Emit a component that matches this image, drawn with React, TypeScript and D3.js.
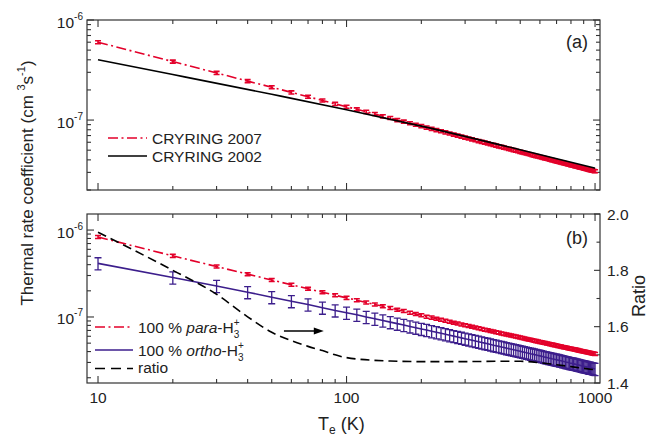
import React, { useEffect, useRef } from 'react';
import * as d3 from 'd3';

// electron temperatures (K), one measured point every 10 K
const temps = [
  10, 20, 30, 40, 50, 60, 70, 80, 90, 100,
  110, 120, 130, 140, 150, 160, 170, 180, 190, 200,
  210, 220, 230, 240, 250, 260, 270, 280, 290, 300,
  310, 320, 330, 340, 350, 360, 370, 380, 390, 400,
  410, 420, 430, 440, 450, 460, 470, 480, 490, 500,
  510, 520, 530, 540, 550, 560, 570, 580, 590, 600,
  610, 620, 630, 640, 650, 660, 670, 680, 690, 700,
  710, 720, 730, 740, 750, 760, 770, 780, 790, 800,
  810, 820, 830, 840, 850, 860, 870, 880, 890, 900,
  910, 920, 930, 940, 950, 960, 970, 980, 990, 1000,
];

// panel (a): CRYRING 2007 rate coefficient (cm^3 s^-1)
const cryring2007 = [
  6.00e-7, 3.84e-7, 2.96e-7, 2.45e-7, 2.13e-7, 1.89e-7, 1.71e-7, 1.57e-7, 1.45e-7, 1.36e-7,
  1.28e-7, 1.21e-7, 1.15e-7, 1.09e-7, 1.05e-7, 1.00e-7, 9.65e-8, 9.30e-8, 8.98e-8, 8.69e-8,
  8.42e-8, 8.18e-8, 7.94e-8, 7.73e-8, 7.53e-8, 7.34e-8, 7.16e-8, 7.00e-8, 6.84e-8, 6.69e-8,
  6.55e-8, 6.42e-8, 6.29e-8, 6.17e-8, 6.06e-8, 5.95e-8, 5.85e-8, 5.74e-8, 5.65e-8, 5.56e-8,
  5.47e-8, 5.39e-8, 5.30e-8, 5.23e-8, 5.15e-8, 5.08e-8, 5.01e-8, 4.94e-8, 4.88e-8, 4.81e-8,
  4.75e-8, 4.69e-8, 4.64e-8, 4.58e-8, 4.53e-8, 4.47e-8, 4.42e-8, 4.37e-8, 4.33e-8, 4.28e-8,
  4.23e-8, 4.19e-8, 4.15e-8, 4.11e-8, 4.06e-8, 4.02e-8, 3.98e-8, 3.95e-8, 3.91e-8, 3.87e-8,
  3.84e-8, 3.80e-8, 3.77e-8, 3.74e-8, 3.71e-8, 3.67e-8, 3.64e-8, 3.61e-8, 3.58e-8, 3.55e-8,
  3.53e-8, 3.50e-8, 3.47e-8, 3.44e-8, 3.42e-8, 3.39e-8, 3.37e-8, 3.34e-8, 3.32e-8, 3.29e-8,
  3.27e-8, 3.25e-8, 3.23e-8, 3.20e-8, 3.18e-8, 3.16e-8, 3.14e-8, 3.12e-8, 3.10e-8, 3.08e-8,
];
const cryring2007RelErr = 0.035;

// panel (a): CRYRING 2002 curve
const cryring2002Temps = [10, 20, 50, 100, 200, 500, 1000];
const cryring2002 = [4.0e-7, 2.85e-7, 1.81e-7, 1.27e-7, 8.7e-8, 5.05e-8, 3.3e-8];

// panel (b): 100 % para-H3+
const paraRate = [
  8.32e-7, 5.05e-7, 3.80e-7, 3.11e-7, 2.66e-7, 2.35e-7, 2.11e-7, 1.93e-7, 1.78e-7, 1.66e-7,
  1.56e-7, 1.47e-7, 1.39e-7, 1.33e-7, 1.27e-7, 1.21e-7, 1.17e-7, 1.12e-7, 1.08e-7, 1.05e-7,
  1.01e-7, 9.84e-8, 9.56e-8, 9.30e-8, 9.05e-8, 8.82e-8, 8.61e-8, 8.41e-8, 8.22e-8, 8.04e-8,
  7.88e-8, 7.72e-8, 7.56e-8, 7.42e-8, 7.28e-8, 7.15e-8, 7.03e-8, 6.91e-8, 6.80e-8, 6.69e-8,
  6.58e-8, 6.48e-8, 6.38e-8, 6.29e-8, 6.20e-8, 6.12e-8, 6.03e-8, 5.95e-8, 5.88e-8, 5.80e-8,
  5.73e-8, 5.66e-8, 5.59e-8, 5.52e-8, 5.46e-8, 5.40e-8, 5.34e-8, 5.28e-8, 5.22e-8, 5.17e-8,
  5.12e-8, 5.06e-8, 5.01e-8, 4.96e-8, 4.92e-8, 4.87e-8, 4.82e-8, 4.78e-8, 4.74e-8, 4.69e-8,
  4.65e-8, 4.61e-8, 4.57e-8, 4.53e-8, 4.49e-8, 4.46e-8, 4.42e-8, 4.38e-8, 4.35e-8, 4.32e-8,
  4.28e-8, 4.25e-8, 4.22e-8, 4.19e-8, 4.16e-8, 4.13e-8, 4.10e-8, 4.07e-8, 4.04e-8, 4.01e-8,
  3.98e-8, 3.96e-8, 3.93e-8, 3.91e-8, 3.88e-8, 3.85e-8, 3.83e-8, 3.80e-8, 3.78e-8, 3.76e-8,
];
const paraRelErr = 0.04;

// panel (b): 100 % ortho-H3+
const orthoRate = [
  4.14e-7, 2.85e-7, 2.27e-7, 1.93e-7, 1.69e-7, 1.52e-7, 1.39e-7, 1.28e-7, 1.19e-7, 1.12e-7,
  1.06e-7, 1.00e-7, 9.54e-8, 9.11e-8, 8.72e-8, 8.38e-8, 8.07e-8, 7.79e-8, 7.53e-8, 7.29e-8,
  7.07e-8, 6.86e-8, 6.67e-8, 6.49e-8, 6.32e-8, 6.17e-8, 6.02e-8, 5.88e-8, 5.75e-8, 5.63e-8,
  5.51e-8, 5.40e-8, 5.29e-8, 5.19e-8, 5.09e-8, 5.00e-8, 4.91e-8, 4.83e-8, 4.74e-8, 4.67e-8,
  4.59e-8, 4.52e-8, 4.45e-8, 4.38e-8, 4.32e-8, 4.26e-8, 4.20e-8, 4.14e-8, 4.08e-8, 4.03e-8,
  3.97e-8, 3.93e-8, 3.88e-8, 3.83e-8, 3.78e-8, 3.74e-8, 3.69e-8, 3.65e-8, 3.61e-8, 3.57e-8,
  3.53e-8, 3.49e-8, 3.45e-8, 3.42e-8, 3.38e-8, 3.35e-8, 3.31e-8, 3.28e-8, 3.25e-8, 3.22e-8,
  3.19e-8, 3.16e-8, 3.13e-8, 3.10e-8, 3.07e-8, 3.04e-8, 3.02e-8, 2.99e-8, 2.96e-8, 2.94e-8,
  2.91e-8, 2.89e-8, 2.87e-8, 2.84e-8, 2.82e-8, 2.80e-8, 2.78e-8, 2.75e-8, 2.73e-8, 2.71e-8,
  2.69e-8, 2.67e-8, 2.65e-8, 2.63e-8, 2.61e-8, 2.60e-8, 2.58e-8, 2.56e-8, 2.54e-8, 2.52e-8,
];
const orthoRelErr = 0.16;

// panel (b): para / ortho ratio (right axis)
const ratioTemps = [10, 20, 30, 40, 50, 60, 70, 80, 90, 100, 150, 200, 300, 400, 500, 600, 700, 800, 900, 1000];
const ratioValues = [1.935, 1.80, 1.715, 1.635, 1.58, 1.55, 1.53, 1.515, 1.50, 1.49, 1.478, 1.476, 1.476, 1.477, 1.477, 1.472, 1.465, 1.458, 1.452, 1.447];

const xTickLabels = [10, 100, 1000];
const ratioTickLabels = [1.4, 1.6, 1.8, 2.0];

const RED = '#e3002a';
const PURPLE = '#3c1e8c';
const FONT = '"Liberation Sans", Arial, Helvetica, sans-serif';

export default function App() {
  const svgRef = useRef<SVGSVGElement>(null);

  useEffect(() => {
    if (!svgRef.current) return;
    const svg = d3.select(svgRef.current);
    svg.selectAll('*').remove();

    const left = 87, right = 600;
    const x = d3.scaleLog().domain([9.03, 1047]).range([left, right]);

    const yA = d3.scaleLog().domain([2e-8, 1e-6]).range([190, 20]);
    const yB = d3.scaleLog().domain([1.74e-8, 1.53e-6]).range([383, 214]);
    const yR = d3.scaleLinear().domain([1.4, 2.0]).range([383, 214]);

    const isDecade = (v: number) => Math.abs(Math.log10(v) - Math.round(Math.log10(v))) < 1e-6;

    const frame = (y: any, rightLog: boolean) => {
      const [bottom, top] = y.range();
      const g = svg.append('g');
      g.append('rect')
        .attr('x', left).attr('y', top)
        .attr('width', right - left).attr('height', bottom - top)
        .attr('fill', 'none').attr('stroke', '#333').attr('stroke-width', 1.2);

      // x ticks, inward on bottom and top
      x.ticks().forEach((t: number) => {
        const len = isDecade(t) ? 7 : 4;
        const px = x(t);
        g.append('line').attr('x1', px).attr('x2', px).attr('y1', bottom).attr('y2', bottom - len)
          .attr('stroke', '#333').attr('stroke-width', 1.1);
        g.append('line').attr('x1', px).attr('x2', px).attr('y1', top).attr('y2', top + len)
          .attr('stroke', '#333').attr('stroke-width', 1.1);
      });

      // log y ticks
      y.ticks().forEach((t: number) => {
        const len = isDecade(t) ? 7 : 4;
        const py = y(t);
        g.append('line').attr('x1', left).attr('x2', left + len).attr('y1', py).attr('y2', py)
          .attr('stroke', '#333').attr('stroke-width', 1.1);
        if (rightLog) {
          g.append('line').attr('x1', right).attr('x2', right - len).attr('y1', py).attr('y2', py)
            .attr('stroke', '#333').attr('stroke-width', 1.1);
        }
        if (isDecade(t)) {
          const txt = g.append('text')
            .attr('x', 83).attr('y', py + 7.5)
            .attr('text-anchor', 'end')
            .attr('font-size', 15.5).attr('fill', '#222');
          txt.append('tspan').text('10');
          txt.append('tspan').attr('dy', -8).attr('font-size', 10)
            .text(String(Math.round(Math.log10(t))));
        }
      });
      return g;
    };

    const errorBars = (g: any, values: number[], rel: number, y: any, color: string, cap: number, sw: number) => {
      g.selectAll(null)
        .data(values.map((v, i) => ({ t: temps[i], v })))
        .enter()
        .append('path')
        .attr('d', (d: any) => {
          const px = x(d.t);
          const y0 = y(d.v * (1 - rel));
          const y1 = y(d.v * (1 + rel));
          return `M${px},${y0}V${y1}M${px - cap},${y0}H${px + cap}M${px - cap},${y1}H${px + cap}`;
        })
        .attr('fill', 'none')
        .attr('stroke', color)
        .attr('stroke-width', sw);
    };

    // ---------- panel (a)
    const gA = frame(yA, true);
    const lineA = d3.line<number>().x((d, i) => x(temps[i])).y(d => yA(d));
    gA.append('path')
      .datum(cryring2007)
      .attr('d', lineA)
      .attr('fill', 'none').attr('stroke', RED).attr('stroke-width', 1.6)
      .attr('stroke-dasharray', '10,3.5,2,3.5');
    errorBars(gA, cryring2007, cryring2007RelErr, yA, RED, 3, 1.6);

    const line02 = d3.line<number>().x((d, i) => x(cryring2002Temps[i])).y(d => yA(d)).curve(d3.curveMonotoneX);
    gA.append('path')
      .datum(cryring2002)
      .attr('d', line02)
      .attr('fill', 'none').attr('stroke', '#000').attr('stroke-width', 1.6);

    // legend (a)
    gA.append('line').attr('x1', 108).attr('x2', 147).attr('y1', 138).attr('y2', 138)
      .attr('stroke', RED).attr('stroke-width', 1.6).attr('stroke-dasharray', '10,3.5,2,3.5');
    gA.append('text').attr('x', 152).attr('y', 143.5).attr('font-size', 15.5).attr('fill', '#222')
      .text('CRYRING 2007');
    gA.append('line').attr('x1', 108).attr('x2', 147).attr('y1', 156).attr('y2', 156)
      .attr('stroke', '#000').attr('stroke-width', 1.6);
    gA.append('text').attr('x', 152).attr('y', 161.5).attr('font-size', 15.5).attr('fill', '#222')
      .text('CRYRING 2002');
    gA.append('text').attr('x', 588).attr('y', 48).attr('text-anchor', 'end')
      .attr('font-size', 18).attr('fill', '#222').text('(a)');

    // ---------- panel (b)
    const gB = frame(yB, false);

    // ratio axis on the right
    yR.ticks(6).forEach((t: number) => {
      const major = Math.round(t * 10) % 2 === 0;
      const py = yR(t);
      gB.append('line').attr('x1', right).attr('x2', right - (major ? 6 : 3.5)).attr('y1', py).attr('y2', py)
        .attr('stroke', '#333').attr('stroke-width', 1.1);
    });
    ratioTickLabels.forEach(t => {
      gB.append('text').attr('x', 607).attr('y', yR(t) + 5.5)
        .attr('font-size', 15.5).attr('fill', '#222').text(t.toFixed(1));
    });

    const lineO = d3.line<number>().x((d, i) => x(temps[i])).y(d => yB(d));
    errorBars(gB, orthoRate, orthoRelErr, yB, PURPLE, 3.5, 1.3);
    gB.append('path')
      .datum(orthoRate)
      .attr('d', lineO)
      .attr('fill', 'none').attr('stroke', PURPLE).attr('stroke-width', 1.6);

    gB.append('path')
      .datum(paraRate)
      .attr('d', lineO)
      .attr('fill', 'none').attr('stroke', RED).attr('stroke-width', 1.6)
      .attr('stroke-dasharray', '10,3.5,2,3.5');
    errorBars(gB, paraRate, paraRelErr, yB, RED, 3, 1.5);

    const lineR = d3.line<number>().x((d, i) => x(ratioTemps[i])).y(d => yR(d)).curve(d3.curveMonotoneX);
    gB.append('path')
      .datum(ratioValues)
      .attr('d', lineR)
      .attr('fill', 'none').attr('stroke', '#000').attr('stroke-width', 1.6)
      .attr('stroke-dasharray', '9,5');

    // arrow pointing to the ratio axis
    const ax0 = x(56), ax1 = x(81), ay = yB(6.9e-8);
    gB.append('line').attr('x1', ax0).attr('x2', ax1 - 8).attr('y1', ay).attr('y2', ay)
      .attr('stroke', '#000').attr('stroke-width', 1.4);
    gB.append('path')
      .attr('d', `M${ax1},${ay}L${ax1 - 10},${ay - 3.5}L${ax1 - 10},${ay + 3.5}Z`)
      .attr('fill', '#000');

    // legend (b)
    const legB = gB.append('g');
    legB.append('line').attr('x1', 95).attr('x2', 133).attr('y1', 327).attr('y2', 327)
      .attr('stroke', RED).attr('stroke-width', 1.6).attr('stroke-dasharray', '10,3.5,2,3.5');
    const tP = legB.append('text').attr('x', 138).attr('y', 333).attr('font-size', 15.5).attr('fill', '#222');
    tP.append('tspan').text('100 % ');
    tP.append('tspan').attr('font-style', 'italic').text('para');
    tP.append('tspan').text('-H');
    tP.append('tspan').attr('font-size', 10).attr('dy', 5).text('3');
    tP.append('tspan').attr('font-size', 10).attr('dx', -5.5).attr('dy', -12).text('+');

    legB.append('line').attr('x1', 95).attr('x2', 133).attr('y1', 350).attr('y2', 350)
      .attr('stroke', PURPLE).attr('stroke-width', 1.6);
    const tO = legB.append('text').attr('x', 138).attr('y', 355.5).attr('font-size', 15.5).attr('fill', '#222');
    tO.append('tspan').text('100 % ');
    tO.append('tspan').attr('font-style', 'italic').text('ortho');
    tO.append('tspan').text('-H');
    tO.append('tspan').attr('font-size', 10).attr('dy', 5).text('3');
    tO.append('tspan').attr('font-size', 10).attr('dx', -5.5).attr('dy', -12).text('+');

    legB.append('line').attr('x1', 95).attr('x2', 133).attr('y1', 368.5).attr('y2', 368.5)
      .attr('stroke', '#000').attr('stroke-width', 1.6).attr('stroke-dasharray', '10,6');
    legB.append('text').attr('x', 138).attr('y', 373).attr('font-size', 15.5).attr('fill', '#222')
      .text('ratio');

    gB.append('text').attr('x', 588).attr('y', 244).attr('text-anchor', 'end')
      .attr('font-size', 18).attr('fill', '#222').text('(b)');

    // x tick labels
    xTickLabels.forEach(t => {
      svg.append('text').attr('x', x(t)).attr('y', 402.5).attr('text-anchor', 'middle')
        .attr('font-size', 15.5).attr('fill', '#222').text(String(t));
    });

    // axis titles
    const xt = svg.append('text').attr('x', 318).attr('y', 430).attr('font-size', 18).attr('fill', '#222');
    xt.append('tspan').text('T');
    xt.append('tspan').attr('font-size', 12).attr('dy', 4).text('e');
    xt.append('tspan').attr('dy', -4).text(' (K)');

    const yt = svg.append('text')
      .attr('transform', 'translate(33,183) rotate(-90)')
      .attr('text-anchor', 'middle').attr('font-size', 17).attr('fill', '#222');
    yt.append('tspan').text('Thermal rate coefficient (cm  ');
    yt.append('tspan').attr('font-size', 11).attr('dy', -8).text('3');
    yt.append('tspan').attr('dy', 8).text('s');
    yt.append('tspan').attr('font-size', 11).attr('dy', -8).text('-1');
    yt.append('tspan').attr('dy', 8).text(')');

    svg.append('text')
      .attr('transform', 'translate(645,296) rotate(-90)')
      .attr('text-anchor', 'middle').attr('font-size', 18).attr('fill', '#222')
      .text('Ratio');
  }, []);

  return (
    <svg
      ref={svgRef}
      width={651}
      height={438}
      style={{ position: 'absolute', left: 0, top: 0, background: '#fff', fontFamily: FONT }}
    />
  );
}
